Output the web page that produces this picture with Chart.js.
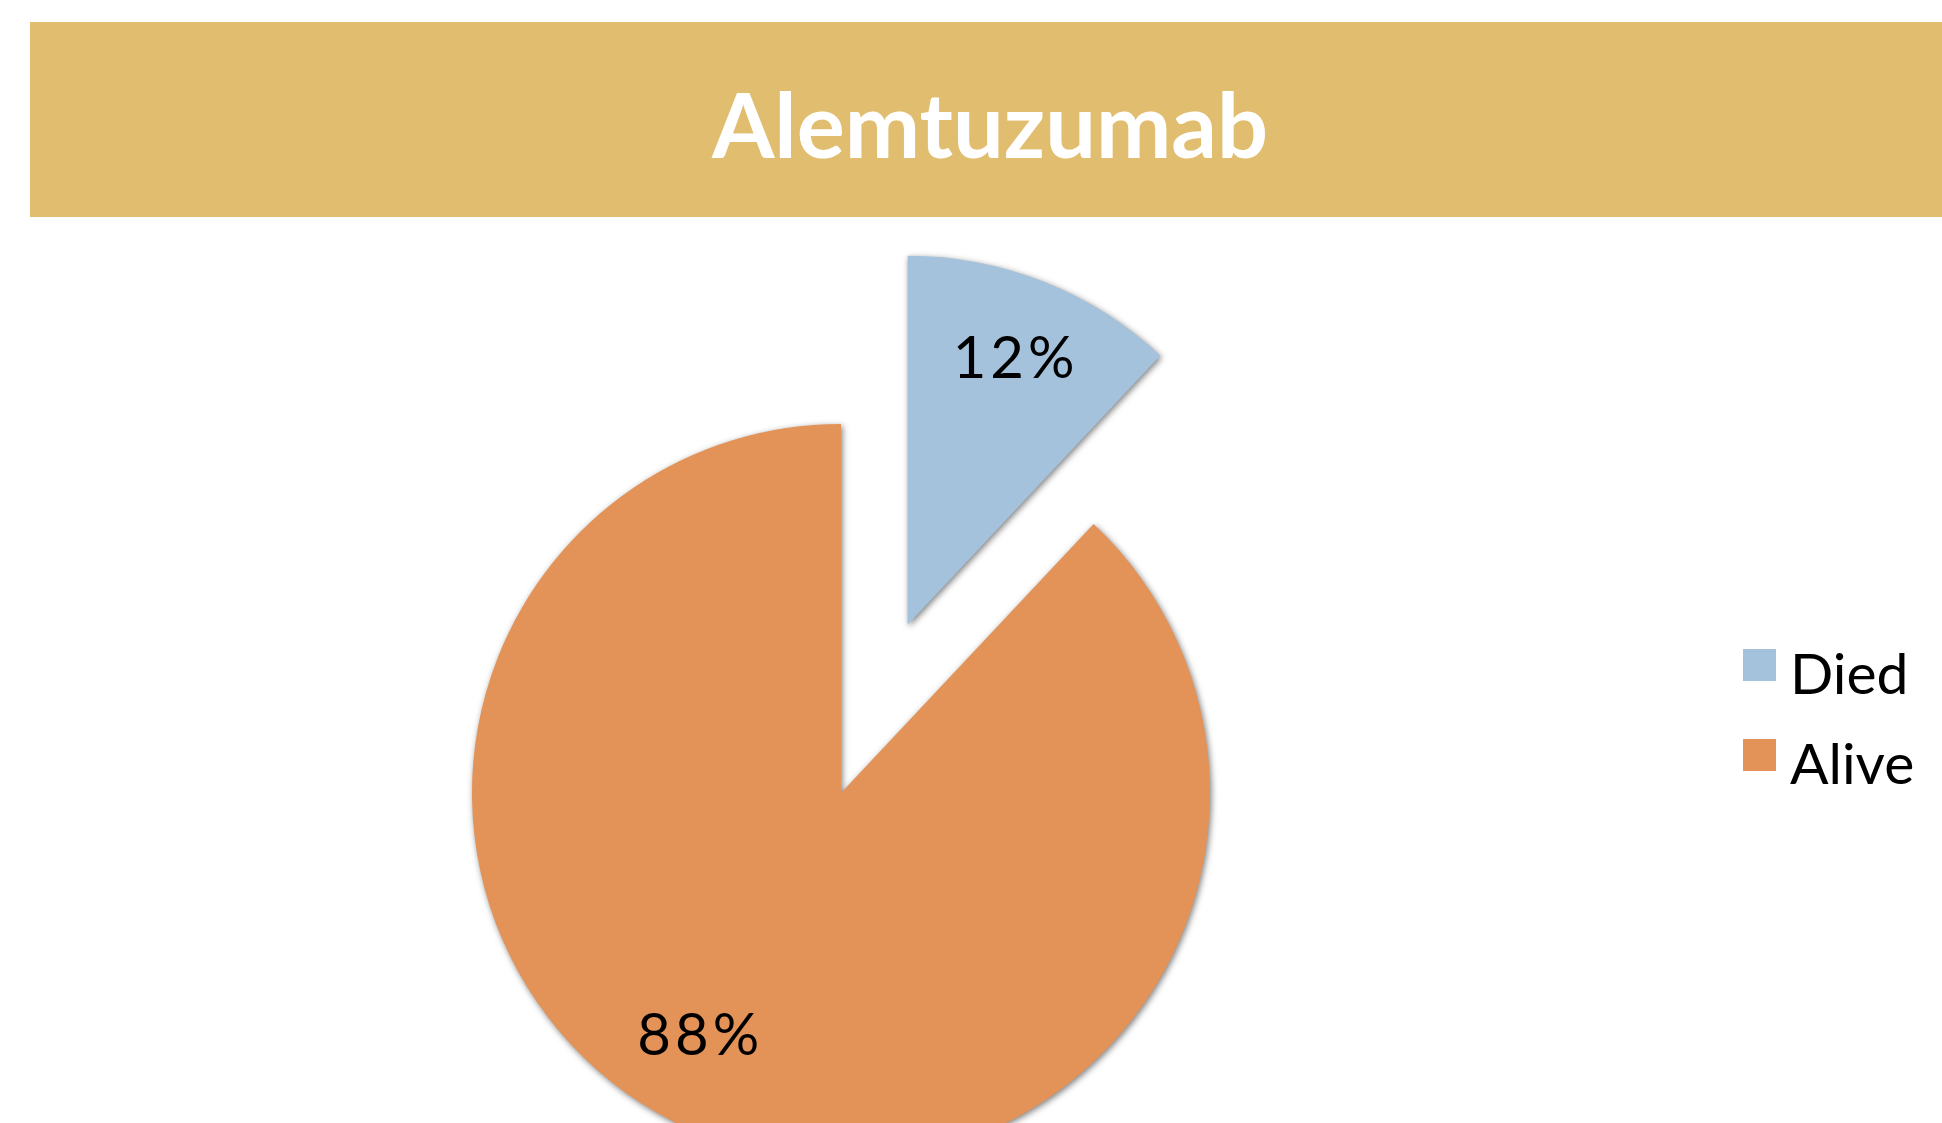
<!DOCTYPE html>
<html>
<head>
<meta charset="utf-8">
<title>Alemtuzumab</title>
<script src="https://cdn.jsdelivr.net/npm/chart.js@4.4.1/dist/chart.umd.min.js"></script>
<style>
html,body{margin:0;padding:0;background:#fff;width:1942px;height:1123px;overflow:hidden;}
#banner{position:absolute;left:30px;top:22px;width:1912px;height:195px;background:#E1BE6F;}
#title{position:absolute;left:0;top:78px;width:1980px;text-align:center;color:#fff;
font-family:Lato,"DejaVu Sans",sans-serif;font-weight:700;font-size:90px;line-height:90px;}
#pie{position:absolute;left:0;top:0;}
</style>
</head>
<body>
<div id="banner"></div>
<div id="title">Alemtuzumab</div>
<canvas id="pie" width="1942" height="1123"></canvas>
<script>

// Data

const labels=["Died","Alive"];
const values=[12,88];
const colors=["#A4C2DB","#E39358"];

// how far each slice is pulled out, and where its % label sits
const explode=[181,0];
const labelDist=[0.78,0.76];
const labelTurn=[0,9];

const fontFamily="Lato, 'DejaVu Sans', sans-serif";


// draws the exploded slices with a soft shadow, the % labels and the legend

const piePlugin={
id:"piePlugin",

beforeDatasetsDraw(chart){
let ctx=chart.ctx;
chart.getDatasetMeta(0).data.forEach((arc,i)=>{
let mid=(arc.startAngle+arc.endAngle)/2;
ctx.save();
ctx.shadowColor="rgba(0,0,0,0.5)";
ctx.shadowBlur=6;
ctx.shadowOffsetX=1.5;
ctx.shadowOffsetY=2;
ctx.translate(Math.cos(mid)*explode[i],Math.sin(mid)*explode[i]);
arc.draw(ctx);
ctx.restore();
});
return false;
},

afterDraw(chart){
let ctx=chart.ctx;
let total=values.reduce((a,b)=>a+b,0);

// percent labels
ctx.save();
ctx.fillStyle="#000";
ctx.font="400 58px "+fontFamily;
ctx.letterSpacing="4px";
ctx.textAlign="center";
ctx.textBaseline="alphabetic";
chart.getDatasetMeta(0).data.forEach((arc,i)=>{
let mid=(arc.startAngle+arc.endAngle)/2;
let turn=mid+labelTurn[i]*Math.PI/180;
let r=arc.outerRadius*labelDist[i];
let x=arc.x+Math.cos(mid)*explode[i]+Math.cos(turn)*r;
let y=arc.y+Math.sin(mid)*explode[i]+Math.sin(turn)*r;
let pct=Math.round(values[i]/total*100)+"%";
ctx.fillText(pct,x+2,y+21);
});
ctx.restore();

// legend
ctx.save();
ctx.font="400 57px "+fontFamily;
ctx.textAlign="left";
ctx.textBaseline="alphabetic";
labels.forEach((lab,i)=>{
let top=649+i*90;
ctx.fillStyle=colors[i];
ctx.fillRect(1743,top,33,32);
ctx.fillStyle="#000";
ctx.fillText(lab,1790,top+45);
});
ctx.restore();
}
};


// Pie

new Chart(
document.getElementById("pie"),
{
type:"pie",
data:{
labels:labels,
datasets:[{
data:values,
backgroundColor:colors,
borderWidth:0
}]
},
options:{
responsive:false,
animation:false,
radius:369,
layout:{
padding:{top:463,right:260,left:0,bottom:0}
},
plugins:{
legend:{display:false},
tooltip:{enabled:false}
}
},
plugins:[piePlugin]
}
);

</script>
</body>
</html>
